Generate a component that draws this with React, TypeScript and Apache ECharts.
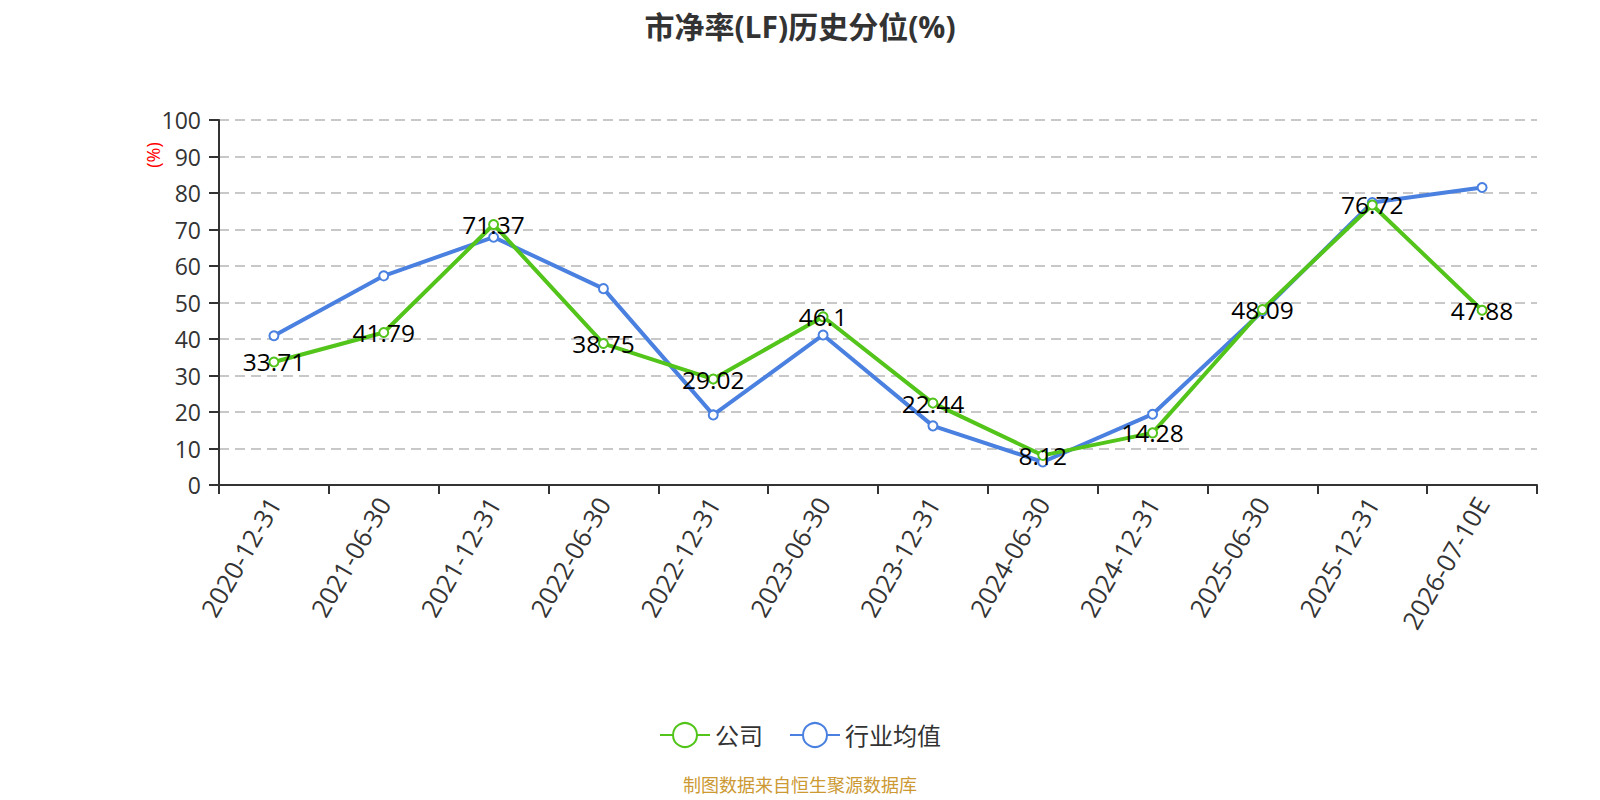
import React, { useEffect, useRef } from "react";
import * as echarts from "echarts";

const categories = [
  "2020-12-31", "2021-06-30", "2021-12-31", "2022-06-30", "2022-12-31", "2023-06-30",
  "2023-12-31", "2024-06-30", "2024-12-31", "2025-06-30", "2025-12-31", "2026-07-10E",
];
const companyValues = [33.71, 41.79, 71.37, 38.75, 29.02, 46.1, 22.44, 8.12, 14.28, 48.09, 76.72, 47.88];
const industryValues = [40.9, 57.3, 67.9, 53.8, 19.2, 41.1, 16.2, 6.3, 19.4, 47.6, 77.4, 81.5];

const FONT = "'Open Sans', 'Noto Sans CJK SC', sans-serif";

export default function App() {
  const ref = useRef<HTMLDivElement>(null);
  useEffect(() => {
    document.body.style.margin = "0";
    if (!ref.current) return;
    const chart = echarts.init(ref.current, undefined, { renderer: "svg" });
    chart.setOption({
      animation: false,
      backgroundColor: "#ffffff",
      textStyle: { fontFamily: FONT },
      title: {
        text: "市净率(LF)历史分位(%)",
        left: "center",
        top: 6,
        textStyle: { fontSize: 30, fontWeight: "bold", color: "#333", fontFamily: FONT },
      },
      legend: {
        top: 717,
        left: "center",
        itemWidth: 50,
        itemHeight: 30,
        itemGap: 26,
        textStyle: { fontSize: 24, color: "#333", fontFamily: FONT },
        data: ["公司", "行业均值"],
      },
      grid: { left: 219, right: 63, top: 120, bottom: 315, containLabel: false },
      xAxis: {
        type: "category",
        data: categories,
        boundaryGap: true,
        axisLine: { lineStyle: { color: "#333", width: 2 } },
        axisTick: { show: true, length: 9, lineStyle: { color: "#333", width: 2 } },
        axisLabel: { rotate: 60, fontSize: 25.5, color: "#333", margin: 14, interval: 0, fontFamily: FONT },
      },
      yAxis: {
        type: "value",
        min: 0,
        max: 100,
        interval: 10,
        axisLine: { show: true, lineStyle: { color: "#333", width: 2 } },
        axisTick: { show: true, length: 10, lineStyle: { color: "#333", width: 2 } },
        axisLabel: { fontSize: 23, color: "#333", margin: 18, fontFamily: FONT },
        splitLine: { show: true, lineStyle: { type: [10, 6], color: "#c8c8c8", width: 2 } },
      },
      graphic: [
        {
          type: "text",
          x: 153,
          y: 155,
          rotation: Math.PI / 2,
          style: { text: "(%)", fill: "#ff0000", fontSize: 18, fontFamily: FONT, textAlign: "center", textVerticalAlign: "middle" },
        },
        {
          type: "text",
          left: "center",
          top: 776,
          style: { text: "制图数据来自恒生聚源数据库", fill: "#CC9933", fontSize: 18, fontFamily: FONT },
        },
      ],
      series: [
        {
          name: "公司",
          type: "line",
          data: companyValues,
          symbol: "emptyCircle",
          symbolSize: 9,
          z: 3,
          itemStyle: { color: "#52C41A", borderWidth: 2 },
          lineStyle: { color: "#52C41A", width: 4 },
          label: { show: true, position: "inside", fontSize: 24.5, color: "#000", fontFamily: FONT },
        },
        {
          name: "行业均值",
          type: "line",
          data: industryValues,
          symbol: "emptyCircle",
          symbolSize: 9,
          z: 2,
          itemStyle: { color: "#4A80E0", borderWidth: 2 },
          lineStyle: { color: "#4A80E0", width: 4 },
        },
      ],
    });
    return () => chart.dispose();
  }, []);
  return <div ref={ref} style={{ width: 1600, height: 800 }} />;
}
